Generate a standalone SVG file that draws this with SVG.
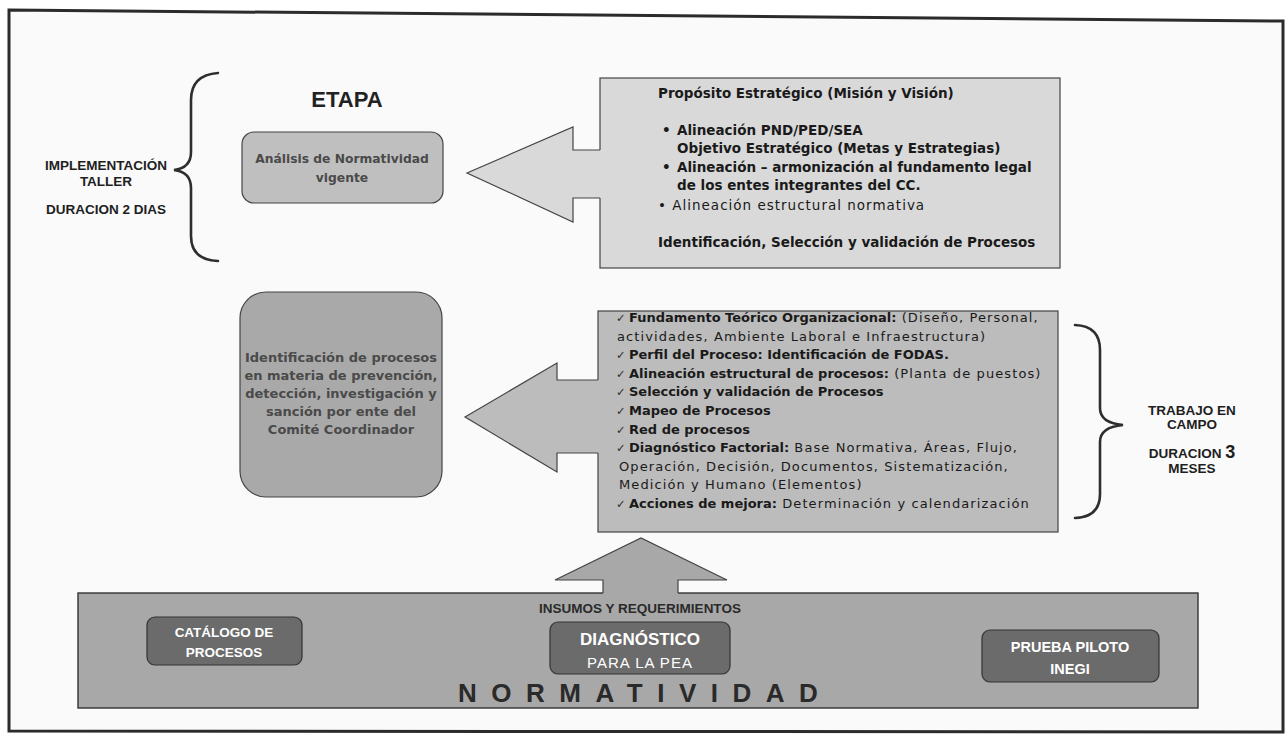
<svg xmlns="http://www.w3.org/2000/svg" width="1286" height="736" viewBox="0 0 1286 736">
<style>
.frame{fill:#fafafa;stroke:#2b2b2b;stroke-width:3}
.lbl{font-family:"Liberation Sans",Arial,sans-serif;font-weight:bold;font-size:13.5px;fill:#1e1e1e;text-anchor:middle}
.body{font-family:"DejaVu Sans",Verdana,sans-serif;fill:#1a1a1a}
.t1{font-size:13.5px}
.t2{font-size:13px}
.b{font-weight:bold;letter-spacing:0}
.r1{font-weight:normal;font-size:13.5px;letter-spacing:1px}
.r2{font-weight:normal;font-size:13px;letter-spacing:1.1px}
.ck{font-family:"DejaVu Sans",Verdana,sans-serif;font-size:11.5px;fill:#333}
.brace{fill:none;stroke:#2e2e2e;stroke-width:2.6;stroke-linecap:round}
.box1{fill:#bfbfbf;stroke:#444;stroke-width:1.2}
.box2{fill:#a9a9a9;stroke:#444;stroke-width:1.2}
.boxt{font-family:"DejaVu Sans",Verdana,sans-serif;font-weight:bold;fill:#4a4a4a;text-anchor:middle}
.rect1{fill:#d9d9d9;stroke:#444;stroke-width:1.2}
.rect2{fill:#bcbcbc;stroke:#444;stroke-width:1.2}
.dark{fill:#6b6b6b;stroke:#333;stroke-width:1.2}
.wt{font-family:"Liberation Sans",Arial,sans-serif;font-weight:bold;fill:#ffffff;text-anchor:middle}
.band{fill:#a8a8a8;stroke:#333;stroke-width:1.4}
.aout{fill:none;stroke:#444;stroke-width:1.2;stroke-linejoin:miter}
</style>
<path class="frame" d="M9,10 L1283,21 L1283,732 L9,731 Z"/>

<g id="label-implementacion">
<text class="lbl" x="106" y="170">IMPLEMENTACIÓN</text>
<text class="lbl" x="106" y="186">TALLER</text>
<text class="lbl" x="106" y="214">DURACION 2 DIAS</text>
</g>
<g id="brace-top">
<path class="brace" d="M218,73 Q191,75 191,100 L191,152 Q191,168 174,170 Q191,172 191,188 L191,236 Q191,260 218,261"/>
</g>
<g id="etapa">
<text x="347" y="107" style="font-family:'Liberation Sans',Arial,sans-serif;font-weight:bold;font-size:22px;fill:#222;text-anchor:middle">ETAPA</text>
</g>
<g id="analisis">
<rect class="box1" x="242" y="132" width="201" height="71" rx="12"/>
<text class="boxt" x="342" y="163" font-size="12.3">Análisis de Normatividad</text>
<text class="boxt" x="342" y="182" font-size="12.3">vigente</text>
</g>
<g id="proposito">
<rect class="rect1" x="600" y="78" width="460" height="190"/>
<text class="body t1 b" x="658" y="98">Propósito Estratégico (Misión y Visión)</text>
<text class="body t1 b" x="662" y="135">•</text>
<text class="body t1 b" x="677" y="135">Alineación PND/PED/SEA</text>
<text class="body t1 b" x="677" y="153">Objetivo Estratégico (Metas y Estrategias)</text>
<text class="body t1 b" x="662" y="172">•</text>
<text class="body t1 b" x="677" y="172">Alineación – armonización al fundamento legal</text>
<text class="body t1 b" x="677" y="190">de los entes integrantes del CC.</text>
<text class="body r1" x="658" y="210">• Alineación estructural normativa</text>
<text class="body t1 b" x="658" y="247">Identificación, Selección y validación de Procesos</text>
</g>
<g id="identificacion">
<rect class="box2" x="240" y="292" width="202" height="205" rx="26"/>
<text class="boxt" x="341" y="362" font-size="13">Identificación de procesos</text>
<text class="boxt" x="341" y="380" font-size="13">en materia de prevención,</text>
<text class="boxt" x="341" y="398" font-size="13">detección, investigación y</text>
<text class="boxt" x="341" y="416" font-size="13">sanción por ente del</text>
<text class="boxt" x="341" y="434" font-size="13">Comité Coordinador</text>
</g>
<g id="actividades">
<rect class="rect2" x="598" y="311" width="460" height="221"/>
<text class="ck" x="616" y="322">✓</text>
<text class="body t2" x="629" y="322"><tspan class="b">Fundamento Teórico Organizacional:</tspan><tspan class="r2"> (Diseño, Personal,</tspan></text>
<text class="body r2" x="617" y="341">actividades, Ambiente Laboral e Infraestructura)</text>
<text class="ck" x="616" y="359">✓</text>
<text class="body t2 b" x="629" y="359">Perfil del Proceso: Identificación de FODAS.</text>
<text class="ck" x="616" y="378">✓</text>
<text class="body t2" x="629" y="378"><tspan class="b">Alineación estructural de procesos:</tspan><tspan class="r2"> (Planta de puestos)</tspan></text>
<text class="ck" x="616" y="396">✓</text>
<text class="body t2 b" x="629" y="396">Selección y validación de Procesos</text>
<text class="ck" x="616" y="415">✓</text>
<text class="body t2 b" x="629" y="415">Mapeo de Procesos</text>
<text class="ck" x="616" y="434">✓</text>
<text class="body t2 b" x="629" y="434">Red de procesos</text>
<text class="ck" x="616" y="452">✓</text>
<text class="body t2" x="629" y="452"><tspan class="b">Diagnóstico Factorial:</tspan><tspan class="r2"> Base Normativa, Áreas, Flujo,</tspan></text>
<text class="body r2" x="619" y="471">Operación, Decisión, Documentos, Sistematización,</text>
<text class="body r2" x="619" y="489">Medición y Humano (Elementos)</text>
<text class="ck" x="616" y="508">✓</text>
<text class="body t2" x="629" y="508"><tspan class="b">Acciones de mejora:</tspan><tspan class="r2"> Determinación y calendarización</tspan></text>
</g>
<g id="brace-bottom">
<path class="brace" d="M1075,325 Q1100,326 1100,350 L1100,408 Q1100,423 1123,425 Q1100,427 1100,442 L1100,494 Q1100,517 1075,518"/>
</g>
<g id="label-trabajo">
<text class="lbl" x="1192" y="415">TRABAJO EN</text>
<text class="lbl" x="1192" y="429">CAMPO</text>
<text class="lbl" x="1192" y="458">DURACION <tspan font-size="18">3</tspan></text>
<text class="lbl" x="1192" y="473">MESES</text>
</g>
<g id="normatividad">
<rect class="band" x="78" y="593" width="1120" height="115"/>
<text x="640" y="613" style="font-family:'Liberation Sans',Arial,sans-serif;font-weight:bold;font-size:13.5px;fill:#2a2a2a;text-anchor:middle">INSUMOS Y REQUERIMIENTOS</text>
<text x="458" y="702" style="font-family:'Liberation Sans',Arial,sans-serif;font-weight:bold;font-size:26px;fill:#2a2a2a;letter-spacing:14.5px">NORMATIVIDAD</text>
</g>
<g id="catalogo">
<rect class="dark" x="147" y="617" width="155" height="48" rx="8"/>
<text class="wt" x="224" y="637" font-size="13.5">CATÁLOGO DE</text>
<text class="wt" x="224" y="657" font-size="13.5">PROCESOS</text>
</g>
<g id="diagnostico">
<rect class="dark" x="550" y="622" width="180" height="52" rx="8"/>
<text class="wt" x="640" y="645" font-size="17">DIAGNÓSTICO</text>
<text x="640" y="668" style="font-family:'Liberation Sans',Arial,sans-serif;font-size:15px;fill:#fff;text-anchor:middle;letter-spacing:1px">PARA LA PEA</text>
</g>
<g id="prueba">
<rect class="dark" x="982" y="630" width="177" height="52" rx="8"/>
<text class="wt" x="1070" y="652" font-size="14.5">PRUEBA PILOTO</text>
<text class="wt" x="1070" y="674" font-size="14.5">INEGI</text>
</g>

<g id="connectors">
<polygon points="602,150 573,150 573,127 467,173 573,222 573,198 602,198" fill="#d9d9d9"/>
<path class="aout" d="M600,150 L573,150 L573,127 L467,173 L573,222 L573,198 L600,198"/>
<polygon points="600,380 557,380 557,363 465,417 557,472 557,453 600,453" fill="#bcbcbc"/>
<path class="aout" d="M598,380 L557,380 L557,363 L465,417 L557,472 L557,453 L598,453"/>
<polygon points="603,595 603,580 555,580 641,538 727,580 678,580 678,595" fill="#a8a8a8"/>
<path class="aout" d="M603,593 L603,580 L555,580 L641,538 L727,580 L678,580 L678,593"/>
</g>
</svg>
